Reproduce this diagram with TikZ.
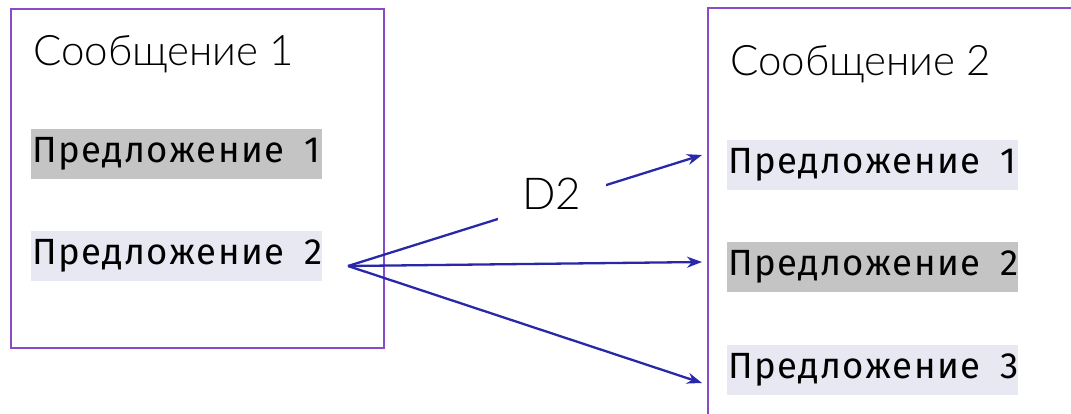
\documentclass[tikz,border=0pt]{standalone}
\usepackage{fontspec}
\setmainfont{Fira Sans}
\newfontfamily\titlefont{Lato Light}
\newfontfamily\sentfont{Fira Sans}[LetterSpace=4]
\usetikzlibrary{arrows.meta}
\definecolor{boxpurple}{HTML}{8A4CC6}
\definecolor{hlgray}{HTML}{C4C4C4}
\definecolor{hllav}{HTML}{E8E8F2}
\definecolor{arrowblue}{HTML}{2828A8}
\tikzset{
  msgbox/.style={draw=boxpurple, line width=2.5pt},
  title/.style={font=\titlefont\fontsize{42}{46}\selectfont, anchor=base west, inner sep=0pt},
  sent/.style={anchor=west, text width=289pt, inner xsep=1pt, inner ysep=0pt, minimum height=50pt, align=left, font=\sentfont\fontsize{36.5}{40}\selectfont},
  sentsel/.style={sent, fill=hlgray},
  sentlink/.style={sent, fill=hllav},
  link/.style={draw=arrowblue, line width=2.3pt, -{Stealth[length=15pt, width=11pt]}},
  lbl/.style={fill=white, font=\titlefont\fontsize{44}{48}\selectfont, minimum width=108pt, minimum height=40pt, inner sep=0pt},
}
\newcommand{\sentence}[1]{\mbox{Предложение\hspace{0.55em}#1}}
\begin{document}
\begin{tikzpicture}[x=1pt, y=-1pt]
\useasboundingbox (0,0) rectangle (1071,413);
\clip (0,0) rectangle (1071,413);
% left message
\draw[msgbox] (11,9) rectangle (384,348);
\node[title] (t1) at (33,65) {Сообщение 1};
\node[sentsel] (l1) at (31,154) {\sentence{1}};
\node[sentlink] (l2) at (31,256) {\sentence{2}};
% right message
\draw[msgbox] (1080,8) -- (708,8) -- (708,420);
\node[title] (t2) at (730,75) {Сообщение 2};
\node[sentlink] (r1) at (727,165) {\sentence{1}};
\node[sentsel] (r2) at (727,267) {\sentence{2}};
\node[sentlink] (r3) at (727,370) {\sentence{3}};
% connectors
\coordinate (src) at (348,266);
\coordinate (tip1) at (702,155);
\coordinate (tip2) at (702,262);
\coordinate (tip3) at (702,383);
\draw[link] (src) -- node[lbl, pos=0.576] (d2) {\raisebox{16pt}{D2}\hspace{18pt}} (tip1);
\draw[link] (src) -- (tip2);
\draw[link] (src) -- (tip3);
\end{tikzpicture}
\end{document}
